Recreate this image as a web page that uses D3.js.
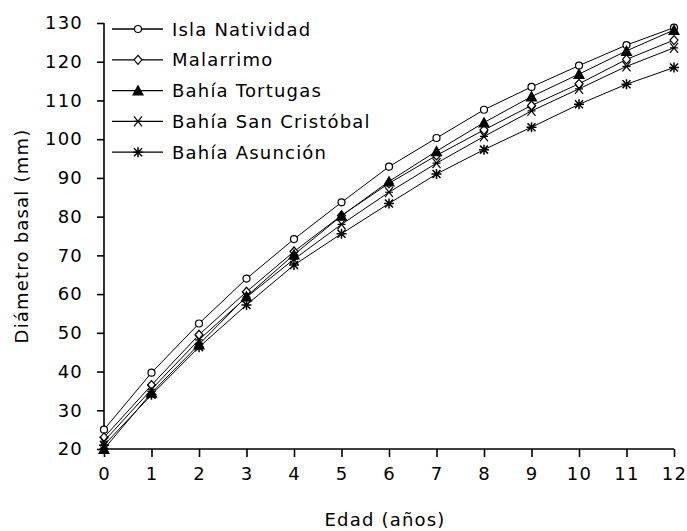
<!DOCTYPE html>
<html><head><meta charset="utf-8">
<script src="https://cdn.jsdelivr.net/npm/d3@7"></script>
<style>
body{margin:0;background:#fff}
text{font-family:"DejaVu Sans",sans-serif;font-size:18px;letter-spacing:1.2px;fill:#000}
</style></head><body>
<svg id="c" width="687" height="531"></svg>
<script>
const ages = [0,1,2,3,4,5,6,7,8,9,10,11,12];
const seriesNames = ["Isla Natividad","Malarrimo","Bahía Tortugas","Bahía San Cristóbal","Bahía Asunción"];
const islaNatividad = [25,39.7,52.4,64,74.2,83.7,92.9,100.3,107.6,113.5,119,124.3,128.8];
const malarrimo = [23,36.5,49.5,60.6,71,80.3,88.6,95.8,102.4,108.7,114.3,120.6,125.6];
const bahiaTortugas = [20,34.5,47,59.4,70.2,80.2,89.1,96.9,104.3,111,116.8,122.8,128.2];
const sanCristobal = [22,35.4,48.2,59.2,69,78,86.3,93.8,100.7,107.3,113,118.8,123.6];
const asuncion = [21,34,46.3,57.2,67.5,75.6,83.4,91,97.3,103.1,109,114.2,118.5];
const yTicks = [20,30,40,50,60,70,80,90,100,110,120,130];
const markers = ["circle","diamond","triangle","x","star"];
const allSeries = [islaNatividad,malarrimo,bahiaTortugas,sanCristobal,asuncion];

const svg = d3.select("#c");
const m = {l:104,r:674,t:23,b:449};
const x = d3.scaleLinear().domain([0,12]).range([m.l,m.r]);
const y = d3.scaleLinear().domain([20,130]).range([m.b,m.t]);

const yAxis = svg.append("g").attr("transform",`translate(${m.l},0)`)
  .call(d3.axisLeft(y).tickValues(yTicks).tickSize(7).tickPadding(14).tickFormat(d3.format("d")));
const xAxis = svg.append("g").attr("transform",`translate(0,${m.b})`)
  .call(d3.axisBottom(x).tickValues(ages).tickSize(8).tickPadding(10).tickFormat(d3.format("d")));
[yAxis,xAxis].forEach(a=>{
  a.selectAll("text").attr("font-family",null).attr("font-size",null).style("fill","#000");
  a.selectAll("line,path").attr("stroke","#000").attr("stroke-width",1.6);
  a.attr("font-family",null).attr("font-size",null);
});
yAxis.select(".domain").attr("d",`M0,${m.t}V${m.b}`);
xAxis.select(".domain").attr("d",`M${m.l},0H${m.r}`);

svg.append("text").attr("x",(m.l+m.r)/2-4).attr("y",526).attr("text-anchor","middle").text("Edad (años)");
svg.append("text").attr("transform",`translate(28,${(m.t+m.b)/2}) rotate(-90)`).attr("text-anchor","middle").text("Diámetro basal (mm)");

function drawMarker(g,type,cx,cy){
  if(type==="circle") g.append("circle").attr("cx",cx).attr("cy",cy).attr("r",3.5).attr("fill","#fff").attr("stroke","#000").attr("stroke-width",1.2);
  else if(type==="diamond") g.append("path").attr("d",`M${cx},${cy-4.5}L${cx+4},${cy}L${cx},${cy+4.5}L${cx-4},${cy}Z`).attr("fill","#fff").attr("stroke","#000").attr("stroke-width",1.2);
  else if(type==="triangle") g.append("path").attr("d",`M${cx},${cy-6}L${cx+6},${cy+5}L${cx-6},${cy+5}Z`).attr("fill","#000");
  else if(type==="x") g.append("path").attr("d",`M${cx-4},${cy-5}L${cx+4},${cy+5}M${cx+4},${cy-5}L${cx-4},${cy+5}M${cx-4},${cy}H${cx+4}`).attr("stroke","#000").attr("stroke-width",1.2);
  else if(type==="star") g.append("path").attr("d",`M${cx-4},${cy-4}L${cx+4},${cy+4}M${cx+4},${cy-4}L${cx-4},${cy+4}M${cx-5},${cy}H${cx+5}M${cx},${cy-5}V${cx+0?cy+5:cy+5}`).attr("stroke","#000").attr("stroke-width",1.5);
}

const line = d3.line().x((d,i)=>x(ages[i])).y(d=>y(d));
allSeries.forEach((s,k)=>{
  const g = svg.append("g");
  g.append("path").attr("d",line(s)).attr("fill","none").attr("stroke","#000").attr("stroke-width",1);
  s.forEach((v,i)=>drawMarker(g,markers[k],x(ages[i]),y(v)));
});

// legend
const lg = svg.append("g");
seriesNames.forEach((n,k)=>{
  const yy = 29 + k*30.8;
  lg.append("line").attr("x1",112).attr("x2",163).attr("y1",yy).attr("y2",yy).attr("stroke","#000").attr("stroke-width",1.3);
  drawMarker(lg,markers[k],138,yy);
  lg.append("text").attr("x",172).attr("y",yy+6.5).text(n);
});
</script></body></html>
